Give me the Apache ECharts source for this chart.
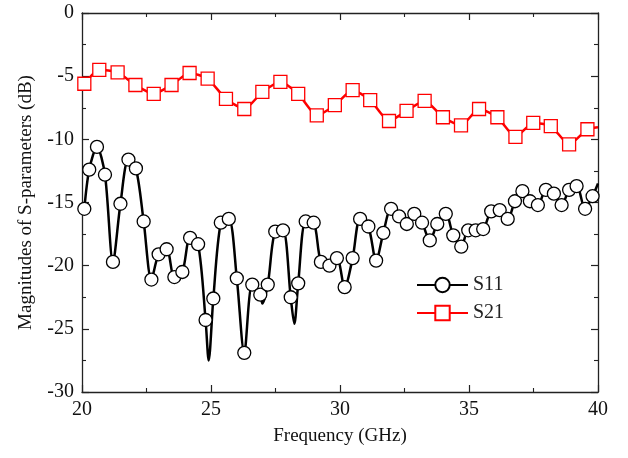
<!DOCTYPE html>
<html>
<head>
<meta charset="utf-8">
<script src="https://cdn.jsdelivr.net/npm/echarts@6/dist/echarts.min.js"></script>
<style>html,body{margin:0;padding:0;background:#fff}#c{width:628px;height:458px}</style>
</head>
<body>
<div id="c"></div>
<script>
// ---- data ----
var s11Freq = [20.09,20.28,20.58,20.89,21.20,21.49,21.80,22.09,22.39,22.69,
  22.97,23.28,23.58,23.89,24.19,24.50,24.79,25.09,25.38,25.69,
  26.00,26.29,26.60,26.91,27.20,27.49,27.79,28.09,28.38,28.67,
  28.98,29.26,29.59,29.88,30.18,30.49,30.78,31.10,31.40,31.68,
  31.98,32.29,32.59,32.88,33.18,33.48,33.77,34.10,34.39,34.70,
  34.97,35.26,35.55,35.86,36.19,36.50,36.78,37.07,37.36,37.67,
  37.98,38.29,38.59,38.88,39.17,39.50,39.79];
var s11Mag = [-15.5,-12.4,-10.6,-12.8,-19.7,-15.1,-11.6,-12.3,-16.5,-21.1,
  -19.1,-18.7,-20.9,-20.5,-17.8,-18.3,-24.3,-22.6,-16.6,-16.3,
  -21.0,-26.9,-21.5,-22.3,-21.5,-17.3,-17.2,-22.5,-21.4,-16.5,
  -16.6,-19.7,-20.0,-19.4,-21.7,-19.4,-16.3,-16.9,-19.6,-17.4,
  -15.5,-16.1,-16.7,-15.9,-16.6,-18.0,-16.7,-15.9,-17.6,-18.5,
  -17.2,-17.2,-17.1,-15.7,-15.6,-16.3,-14.9,-14.1,-14.9,-15.2,
  -14.0,-14.3,-15.2,-14.0,-13.7,-15.5,-14.5];
// points of the S11 trace between markers (curve minima / edge), no marker drawn
var s11TraceFreq = [24.91, 26.99, 28.23, 40.0];
var s11TraceMag  = [-27.5, -23.0, -24.6, -13.5];

var s21Freq = [20.09,20.67,21.38,22.07,22.78,23.47,24.17,24.87,25.58,26.29,
  26.99,27.69,28.38,29.10,29.80,30.49,31.17,31.90,32.58,33.28,
  33.99,34.69,35.39,36.10,36.80,37.49,38.17,38.88,39.59];
var s21Mag = [-5.6,-4.5,-4.7,-5.7,-6.4,-5.7,-4.75,-5.2,-6.8,-7.6,
  -6.25,-5.45,-6.4,-8.1,-7.3,-6.1,-6.9,-8.55,-7.75,-6.95,
  -8.25,-8.9,-7.6,-8.25,-9.8,-8.7,-8.95,-10.4,-9.2];
var s21TraceFreq = [40.0];
var s21TraceMag = [-9.05];

var xTicks = {min: 20, max: 40, step: 5};
var yTicks = {min: -30, max: 0, step: 5};
var seriesNames = ['S11', 'S21'];
var xName = 'Frequency (GHz)';
var yName = 'Magnitudes of S-parameters (dB)';

// ---- build ----
function build(fx, fy, tx, ty) {
  var arr = [];
  for (var i = 0; i < fx.length; i++) arr.push({value: [fx[i], fy[i]]});
  for (var j = 0; j < tx.length; j++) arr.push({value: [tx[j], ty[j]], symbol: 'none'});
  arr.sort(function (a, b) { return a.value[0] - b.value[0]; });
  return arr;
}
var FONT = '"Liberation Serif", "Times New Roman", serif';
var chart = echarts.init(document.getElementById('c'), null, {renderer: 'canvas'});

function axisCommon(showLabel) {
  return {
    axisLine: {show: true, onZero: false, lineStyle: {color: '#222', width: 1.3}},
    axisTick: {show: true, inside: true, length: 7, lineStyle: {color: '#222', width: 1.2}},
    minorTick: {show: true, splitNumber: 2, length: 4, lineStyle: {color: '#222', width: 1.1}},
    splitLine: {show: false},
    minorSplitLine: {show: false},
    axisLabel: {show: showLabel, fontFamily: FONT, fontSize: 20, color: '#111', margin: 8}
  };
}

var xBottom = Object.assign({type: 'value', position: 'bottom', min: xTicks.min, max: xTicks.max, interval: xTicks.step,
  name: xName, nameLocation: 'middle', nameGap: 35,
  nameTextStyle: {fontFamily: FONT, fontSize: 19, color: '#111'}}, axisCommon(true));
var xTop = Object.assign({type: 'value', position: 'top', min: xTicks.min, max: xTicks.max, interval: xTicks.step}, axisCommon(false));
var yLeft = Object.assign({type: 'value', position: 'left', min: yTicks.min, max: yTicks.max, interval: yTicks.step,
  name: yName, nameLocation: 'middle', nameGap: 46,
  nameTextStyle: {fontFamily: FONT, fontSize: 19, color: '#111'}}, axisCommon(true));
var yRight = Object.assign({type: 'value', position: 'right', min: yTicks.min, max: yTicks.max, interval: yTicks.step}, axisCommon(false));

chart.setOption({
  animation: false,
  backgroundColor: '#fff',
  grid: {left: 82, right: 30, top: 13, bottom: 66, containLabel: false},
  xAxis: [xBottom, xTop],
  yAxis: [yLeft, yRight],
  legend: {
    orient: 'vertical', left: 411, top: 270, itemWidth: 51, itemHeight: 18, itemGap: 8,
    textStyle: {fontFamily: FONT, fontSize: 20, color: '#222'},
    data: seriesNames
  },
  series: [
    {
      name: seriesNames[0], type: 'line', xAxisIndex: 0, yAxisIndex: 0,
      data: build(s11Freq, s11Mag, s11TraceFreq, s11TraceMag),
      smooth: 0.3, symbol: 'circle', symbolSize: 13, showAllSymbol: true,
      lineStyle: {color: '#000', width: 2.5},
      itemStyle: {color: '#fff', borderColor: '#000', borderWidth: 1.3},
      z: 3
    },
    {
      name: seriesNames[1], type: 'line', xAxisIndex: 0, yAxisIndex: 0,
      data: build(s21Freq, s21Mag, s21TraceFreq, s21TraceMag),
      smooth: 0.2, symbol: 'rect', symbolSize: 13, showAllSymbol: true,
      lineStyle: {color: '#ff0000', width: 2.5},
      itemStyle: {color: '#fff', borderColor: '#ff0000', borderWidth: 1.3},
      z: 3
    }
  ]
});
</script>
</body>
</html>
